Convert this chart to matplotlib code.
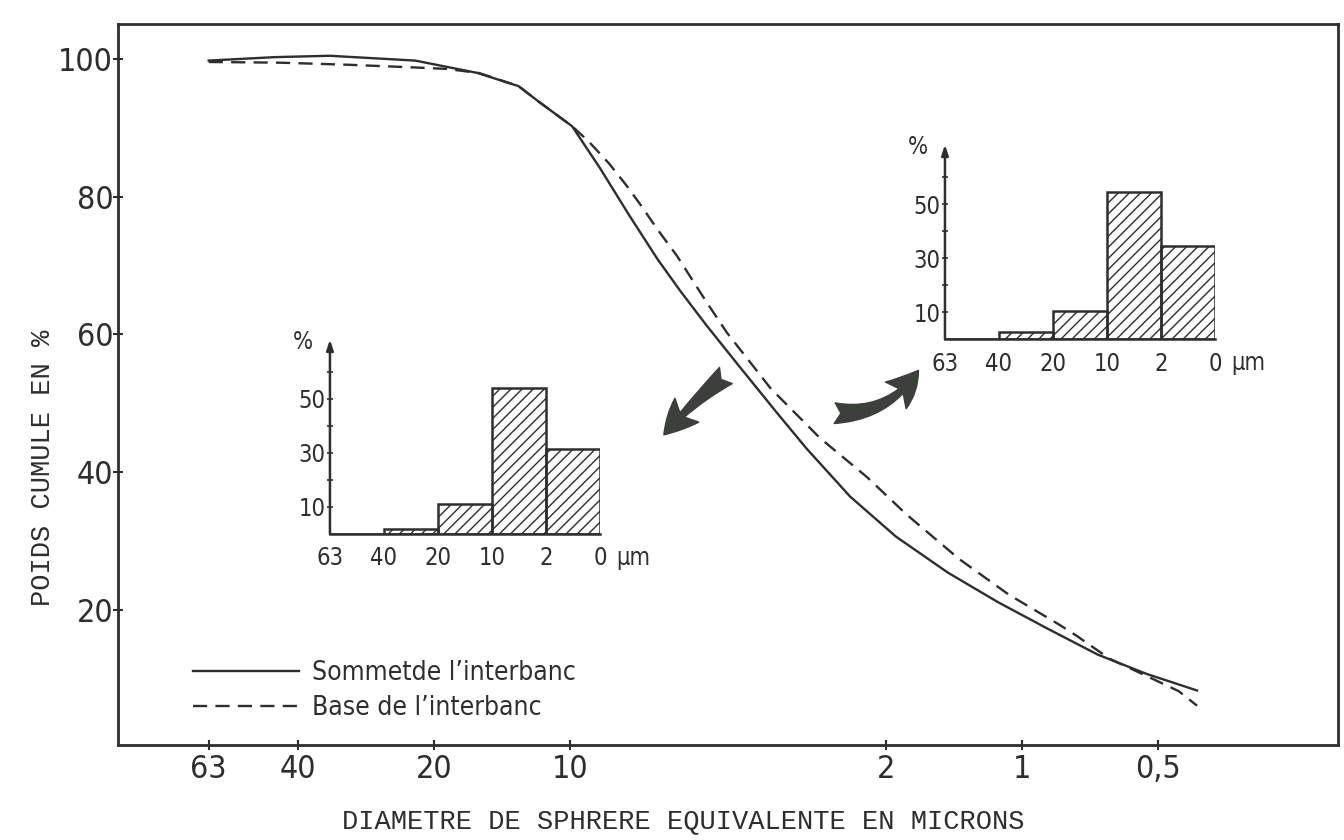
import matplotlib
matplotlib.use("Agg")
import matplotlib.pyplot as plt
from matplotlib.ticker import NullLocator, FixedLocator
from matplotlib.patches import FancyArrowPatch

# ---------------- data ----------------
diam_sommet = [63, 45, 34, 22, 16, 13, 11.7, 9.9, 8.6, 7.4, 6.4, 5.7, 5.0, 4.2, 3.5,
               3.0, 2.4, 1.9, 1.46, 1.13, 0.88, 0.68, 0.53, 0.41]
pct_sommet = [99.7, 100.2, 100.4, 99.7, 97.9, 96.0, 93.7, 90.2, 84.2, 77.3, 70.9,
              66.3, 61.4, 55.2, 48.8, 43.5, 36.5, 30.7, 25.5, 21.2, 17.4, 13.6, 10.8, 8.4]

diam_base = [63, 44, 31, 22, 18.8, 15.9, 13, 11.7, 9.9, 9.1, 8.2, 7.5, 7.0, 6.4,
             5.8, 5.0, 4.5, 3.6, 2.8, 2.2, 1.8, 1.38, 1.07, 0.83, 0.76, 0.64,
             0.53, 0.45, 0.41]
pct_base = [99.5, 99.4, 99.1, 98.7, 98.5, 97.9, 96.0, 93.7, 90.2, 88.0, 84.8, 81.6,
            78.9, 75.2, 71.4, 64.8, 60.3, 52.2, 45.0, 39.3, 33.9, 27.5, 22.3, 18.0,
            16.4, 13.0, 10.5, 8.3, 6.2]

x_ticks = [63, 40, 20, 10, 2, 1, 0.5]
x_tick_labels = ["63", "40", "20", "10", "2", "1", "0,5"]
y_ticks = [20, 40, 60, 80, 100]

hist_edges_labels = ["63", "40", "20", "10", "2", "0"]
hist_left = [0, 1.8, 11.2, 53.9, 31.4]
hist_right = [0, 2.6, 10.4, 54.4, 34.5]
hist_yticks = [10, 20, 30, 40, 50, 60]
hist_ylabels = ["10", "", "30", "", "50", ""]

label_sommet = "Sommetde l\u2019interbanc"
label_base = "Base de l\u2019interbanc"
xlabel = "DIAMETRE DE SPHRERE EQUIVALENTE EN MICRONS"
ylabel = "POIDS CUMULE EN %"

# ---------------- style ----------------
ink = "#2e2e2e"
tech = dict(family="DejaVu Sans", stretch="condensed")
mono = dict(family=["Liberation Mono", "DejaVu Sans Mono"])
plt.rcParams["hatch.linewidth"] = 1.0
plt.rcParams["hatch.color"] = ink

fig = plt.figure(figsize=(13.44, 8.4), dpi=100)
fig.patch.set_facecolor("white")

ax = fig.add_axes([0.0878, 0.1131, 0.9077, 0.8583])
ax.set_xscale("log")

ax.plot(diam_sommet, pct_sommet, color=ink, lw=1.7, label=label_sommet)
ax.plot(diam_base, pct_base, color=ink, lw=1.7, linestyle=(0, (6, 3.5)), label=label_base)

ax.xaxis.set_major_locator(FixedLocator(x_ticks))
ax.set_xticklabels(x_tick_labels)
ax.xaxis.set_minor_locator(NullLocator())
ax.set_yticks(y_ticks)
ax.yaxis.set_minor_locator(NullLocator())
ax.set_xlim(100, 0.2)
ax.set_ylim(0.5, 105)
for s in ax.spines.values():
    s.set_linewidth(2.0)
    s.set_color(ink)
ax.tick_params(axis="both", direction="inout", length=7, width=1.5, colors=ink)
ax.tick_params(axis="y", pad=0)
ax.tick_params(axis="x", pad=3)
for lab in ax.get_xticklabels() + ax.get_yticklabels():
    lab.set_fontsize(23)
    lab.set_fontstretch("condensed")
    lab.set_family("DejaVu Sans")
    lab.set_color(ink)

ax.set_xlabel(xlabel, fontsize=19.5, color=ink, **mono)
ax.set_ylabel(ylabel, fontsize=19.5, color=ink, **mono)
ax.xaxis.set_label_coords(0.463, -0.088)
ax.yaxis.set_label_coords(-0.051, 0.385)

leg = ax.legend(loc="upper left", bbox_to_anchor=(0.0615, 0.118), frameon=False,
                handlelength=4.0, handletextpad=0.5, labelspacing=0.35,
                borderpad=0, borderaxespad=0,
                prop=dict(size=19, stretch="condensed", family="DejaVu Sans"))
for t in leg.get_texts():
    t.set_color(ink)

# ---------------- insets ----------------
def inset(rect, values):
    ia = fig.add_axes(rect)
    ia.patch.set_alpha(0)
    pos = [i + 0.5 for i in range(len(values))]
    ia.bar(pos, values, width=1.0, fill=False, hatch="///", edgecolor=ink, linewidth=1.8)
    for side in ("top", "right", "left"):
        ia.spines[side].set_visible(False)
    ia.spines["bottom"].set_linewidth(1.8)
    ia.spines["bottom"].set_color(ink)
    ia.annotate("", xy=(0, 72), xytext=(0, 0), xycoords="data",
                arrowprops=dict(arrowstyle="-|>,head_length=0.6,head_width=0.2",
                                color=ink, lw=1.8, shrinkA=0, shrinkB=0),
                annotation_clip=False)
    ia.set_yticks(hist_yticks)
    ia.set_yticklabels(hist_ylabels)
    ia.tick_params(axis="y", direction="inout", length=4, width=1.2, pad=1, colors=ink)
    ia.set_xticks(range(6))
    ia.set_xticklabels(hist_edges_labels)
    ia.tick_params(axis="x", length=0, pad=9, colors=ink)
    ia.set_xlim(0, 5)
    ia.set_ylim(0, 70)
    for lab in ia.get_xticklabels() + ia.get_yticklabels():
        lab.set_fontsize(17)
        lab.set_fontstretch("condensed")
        lab.set_family("DejaVu Sans")
    ia.text(5.62, -0.065, "\u00b5m", transform=ia.get_xaxis_transform(),
            fontsize=17, ha="center", va="top", color=ink, **tech)
    ia.text(-0.5, 71, "%", fontsize=17, ha="center", va="center", color=ink, **tech)
    return ia

inset([0.2455, 0.3643, 0.2009, 0.225], hist_left)
inset([0.7031, 0.5964, 0.2009, 0.225], hist_right)

# ---------------- arrows ----------------
a1 = FancyArrowPatch((0.5417, 0.555), (0.4926, 0.4798), transform=fig.transFigure,
                     arrowstyle="fancy,head_length=0.9,head_width=0.9,tail_width=0.55",
                     mutation_scale=27, color="#3b403b", connectionstyle="arc3,rad=0.05")
a2 = FancyArrowPatch((0.619, 0.5083), (0.6845, 0.5619), transform=fig.transFigure,
                     arrowstyle="fancy,head_length=0.9,head_width=0.9,tail_width=0.55",
                     mutation_scale=27, color="#3b403b", connectionstyle="arc3,rad=0.3")
fig.patches.extend([a1, a2])

fig.savefig("out.png", dpi=100, facecolor="white")
